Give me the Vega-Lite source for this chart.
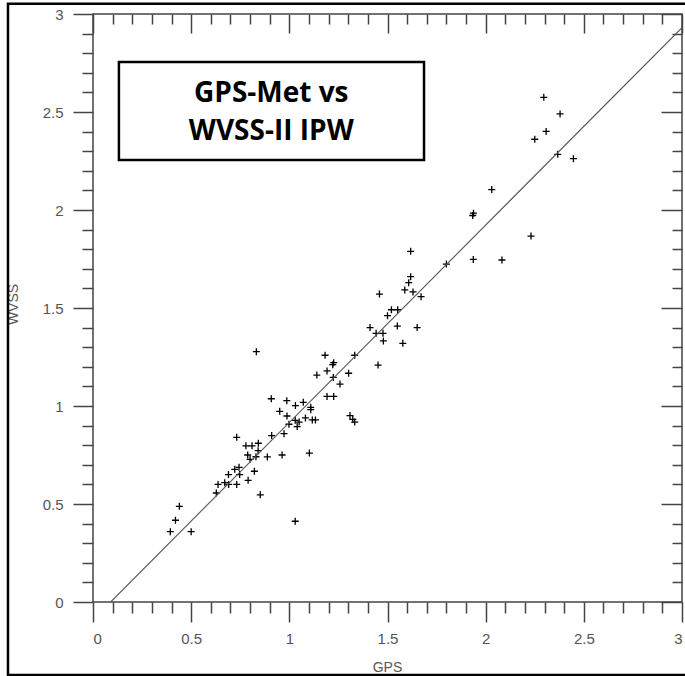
{
  "$schema": "https://vega.github.io/schema/vega-lite/v6.json",
  "width": 589,
  "height": 588,
  "autosize": {"type": "none"},
  "padding": {"left": 93, "top": 14, "right": 3, "bottom": 74},
  "background": "white",
  "config": {
    "view": {"stroke": "#444", "strokeWidth": 1.5},
    "axis": {
      "grid": false,
      "domain": false,
      "tickColor": "#444",
      "tickWidth": 1.5,
      "labelColor": "#555",
      "labelFont": "Liberation Sans",
      "labelFontSize": 15,
      "titleFont": "Liberation Sans",
      "titleFontSize": 14,
      "titleFontWeight": "normal",
      "titleColor": "#555"
    }
  },
  "datasets": {
    "obs": [
      {"GPS": 0.394, "WVSS": 0.359}, {"GPS": 0.42, "WVSS": 0.417}, {"GPS": 0.44, "WVSS": 0.488}, {"GPS": 0.5, "WVSS": 0.359},
      {"GPS": 1.03, "WVSS": 0.412}, {"GPS": 0.852, "WVSS": 0.547}, {"GPS": 0.628, "WVSS": 0.556}, {"GPS": 0.637, "WVSS": 0.6},
      {"GPS": 0.671, "WVSS": 0.609}, {"GPS": 0.691, "WVSS": 0.6}, {"GPS": 0.732, "WVSS": 0.6}, {"GPS": 0.79, "WVSS": 0.621},
      {"GPS": 0.69, "WVSS": 0.65}, {"GPS": 0.722, "WVSS": 0.677}, {"GPS": 0.744, "WVSS": 0.687}, {"GPS": 0.747, "WVSS": 0.65},
      {"GPS": 0.822, "WVSS": 0.667}, {"GPS": 0.888, "WVSS": 0.74}, {"GPS": 0.963, "WVSS": 0.75}, {"GPS": 0.788, "WVSS": 0.75},
      {"GPS": 0.8, "WVSS": 0.728}, {"GPS": 0.83, "WVSS": 0.741}, {"GPS": 0.841, "WVSS": 0.772}, {"GPS": 0.779, "WVSS": 0.797},
      {"GPS": 0.81, "WVSS": 0.797}, {"GPS": 0.842, "WVSS": 0.81}, {"GPS": 0.832, "WVSS": 1.277}, {"GPS": 0.732, "WVSS": 0.84},
      {"GPS": 1.102, "WVSS": 0.76}, {"GPS": 0.91, "WVSS": 0.849}, {"GPS": 0.973, "WVSS": 0.859}, {"GPS": 0.998, "WVSS": 0.907},
      {"GPS": 1.04, "WVSS": 0.895}, {"GPS": 1.03, "WVSS": 0.927}, {"GPS": 1.05, "WVSS": 0.918}, {"GPS": 1.082, "WVSS": 0.939},
      {"GPS": 1.117, "WVSS": 0.929}, {"GPS": 1.133, "WVSS": 0.929}, {"GPS": 0.951, "WVSS": 0.973}, {"GPS": 0.988, "WVSS": 0.949},
      {"GPS": 0.908, "WVSS": 1.037}, {"GPS": 0.987, "WVSS": 1.027}, {"GPS": 1.031, "WVSS": 1.002}, {"GPS": 1.071, "WVSS": 1.019},
      {"GPS": 1.109, "WVSS": 0.993}, {"GPS": 1.109, "WVSS": 0.981}, {"GPS": 1.192, "WVSS": 1.049}, {"GPS": 1.226, "WVSS": 1.049},
      {"GPS": 1.258, "WVSS": 1.112}, {"GPS": 1.14, "WVSS": 1.158}, {"GPS": 1.192, "WVSS": 1.179}, {"GPS": 1.224, "WVSS": 1.146},
      {"GPS": 1.182, "WVSS": 1.259}, {"GPS": 1.221, "WVSS": 1.211}, {"GPS": 1.226, "WVSS": 1.221}, {"GPS": 1.302, "WVSS": 1.167},
      {"GPS": 1.333, "WVSS": 1.259}, {"GPS": 1.309, "WVSS": 0.951}, {"GPS": 1.323, "WVSS": 0.932}, {"GPS": 1.333, "WVSS": 0.918},
      {"GPS": 1.442, "WVSS": 1.371}, {"GPS": 1.477, "WVSS": 1.371}, {"GPS": 1.411, "WVSS": 1.4}, {"GPS": 1.479, "WVSS": 1.332},
      {"GPS": 1.578, "WVSS": 1.32}, {"GPS": 1.55, "WVSS": 1.408}, {"GPS": 1.651, "WVSS": 1.4}, {"GPS": 1.5, "WVSS": 1.461},
      {"GPS": 1.52, "WVSS": 1.491}, {"GPS": 1.552, "WVSS": 1.491}, {"GPS": 1.459, "WVSS": 1.571}, {"GPS": 1.588, "WVSS": 1.592},
      {"GPS": 1.63, "WVSS": 1.582}, {"GPS": 1.671, "WVSS": 1.558}, {"GPS": 1.608, "WVSS": 1.629}, {"GPS": 1.618, "WVSS": 1.66},
      {"GPS": 1.618, "WVSS": 1.789}, {"GPS": 1.8, "WVSS": 1.724}, {"GPS": 1.937, "WVSS": 1.748}, {"GPS": 1.934, "WVSS": 1.972},
      {"GPS": 1.938, "WVSS": 1.984}, {"GPS": 2.031, "WVSS": 2.104}, {"GPS": 2.296, "WVSS": 2.575}, {"GPS": 2.379, "WVSS": 2.49},
      {"GPS": 2.308, "WVSS": 2.401}, {"GPS": 2.25, "WVSS": 2.361}, {"GPS": 2.367, "WVSS": 2.284}, {"GPS": 2.447, "WVSS": 2.262},
      {"GPS": 2.231, "WVSS": 1.867}, {"GPS": 2.083, "WVSS": 1.745}, {"GPS": 1.452, "WVSS": 1.209}
    ],
    "fit": [
      {"GPS": 0.09, "WVSS": 0.0},
      {"GPS": 3.0, "WVSS": 2.93}
    ],
    "note": [
      {"line1": "GPS-Met vs", "line2": "WVSS-II IPW"}
    ]
  },
  "layer": [
    {
      "data": {"name": "obs"},
      "mark": {"type": "point", "shape": "M-1,0L1,0M0,-1L0,1", "size": 49, "filled": false, "stroke": "black", "strokeWidth": 1.3, "opacity": 1},
      "encoding": {
        "x": {"field": "GPS", "type": "quantitative", "scale": {"domain": [0, 3], "nice": false, "zero": false},
          "axis": {"orient": "bottom", "values": [0, 0.5, 1, 1.5, 2, 2.5, 3], "format": "~g", "tickSize": 20, "labelPadding": 9,
            "title": "GPS", "titleX": 294, "titleY": 65, "titleBaseline": "middle", "titleAlign": "center"}},
        "y": {"field": "WVSS", "type": "quantitative", "scale": {"domain": [0, 3], "nice": false, "zero": false},
          "axis": {"orient": "left", "values": [0, 0.5, 1, 1.5, 2, 2.5, 3], "format": "~g", "tickSize": 20, "labelPadding": 10,
            "title": "WVSS", "titleX": -80, "titleY": 290, "titleBaseline": "middle", "titleAlign": "center", "titleAngle": -90}}
      }
    },
    {
      "data": {"name": "fit"},
      "mark": {"type": "line", "color": "#555", "strokeWidth": 1.1, "clip": true},
      "encoding": {
        "x": {"field": "GPS", "type": "quantitative", "scale": {"domain": [0, 3], "nice": false, "zero": false},
          "axis": {"orient": "bottom", "values": [0.1, 0.2, 0.3, 0.4, 0.6, 0.7, 0.8, 0.9, 1.1, 1.2, 1.3, 1.4, 1.6, 1.7, 1.8, 1.9, 2.1, 2.2, 2.3, 2.4, 2.6, 2.7, 2.8, 2.9],
            "tickSize": 11, "labels": false, "title": null}},
        "y": {"field": "WVSS", "type": "quantitative", "scale": {"domain": [0, 3], "nice": false, "zero": false},
          "axis": {"orient": "left", "values": [0.1, 0.2, 0.3, 0.4, 0.6, 0.7, 0.8, 0.9, 1.1, 1.2, 1.3, 1.4, 1.6, 1.7, 1.8, 1.9, 2.1, 2.2, 2.3, 2.4, 2.6, 2.7, 2.8, 2.9],
            "tickSize": 11, "labels": false, "title": null}}
      }
    },
    {
      "data": {"name": "note"},
      "mark": {"type": "rect", "fill": "white", "stroke": "black", "strokeWidth": 2.5},
      "encoding": {
        "x": {"datum": 0.132, "type": "quantitative", "scale": {"domain": [0, 3], "nice": false, "zero": false},
          "axis": {"orient": "top", "values": [0, 0.5, 1, 1.5, 2, 2.5, 3], "tickSize": 19, "offset": -19, "labels": false, "title": null}},
        "x2": {"datum": 1.686},
        "y": {"datum": 2.755, "type": "quantitative", "scale": {"domain": [0, 3], "nice": false, "zero": false},
          "axis": {"orient": "right", "values": [0, 0.5, 1, 1.5, 2, 2.5, 3], "tickSize": 21, "offset": -21, "labels": false, "title": null}},
        "y2": {"datum": 2.255}
      }
    },
    {
      "data": {"name": "note"},
      "mark": {"type": "text", "font": "Open Sans", "fontWeight": "bold", "fontSize": 28, "color": "black", "align": "center", "baseline": "middle", "lineHeight": 38},
      "encoding": {
        "text": {"value": ["GPS-Met vs", "WVSS-II IPW"]},
        "x": {"datum": 0.908, "type": "quantitative", "scale": {"domain": [0, 3], "nice": false, "zero": false},
          "axis": {"orient": "top", "values": [0.1, 0.2, 0.3, 0.4, 0.6, 0.7, 0.8, 0.9, 1.1, 1.2, 1.3, 1.4, 1.6, 1.7, 1.8, 1.9, 2.1, 2.2, 2.3, 2.4, 2.6, 2.7, 2.8, 2.9],
            "tickSize": 10, "offset": -10, "labels": false, "title": null}},
        "y": {"datum": 2.592, "type": "quantitative", "scale": {"domain": [0, 3], "nice": false, "zero": false},
          "axis": {"orient": "right", "values": [0.1, 0.2, 0.3, 0.4, 0.6, 0.7, 0.8, 0.9, 1.1, 1.2, 1.3, 1.4, 1.6, 1.7, 1.8, 1.9, 2.1, 2.2, 2.3, 2.4, 2.6, 2.7, 2.8, 2.9],
            "tickSize": 10, "offset": -10, "labels": false, "title": null}}
      }
    },
    {
      "data": {"name": "note"},
      "mark": {"type": "rect", "fill": null, "stroke": "black", "strokeWidth": 2.5, "clip": false},
      "encoding": {
        "x": {"datum": -0.433, "type": "quantitative", "scale": {"domain": [0, 3], "nice": false, "zero": false}, "axis": null},
        "x2": {"datum": 3.6},
        "y": {"datum": 3.052, "type": "quantitative", "scale": {"domain": [0, 3], "nice": false, "zero": false}, "axis": null},
        "y2": {"datum": -0.372}
      }
    }
  ],
  "resolve": {"axis": {"x": "independent", "y": "independent"}}
}
